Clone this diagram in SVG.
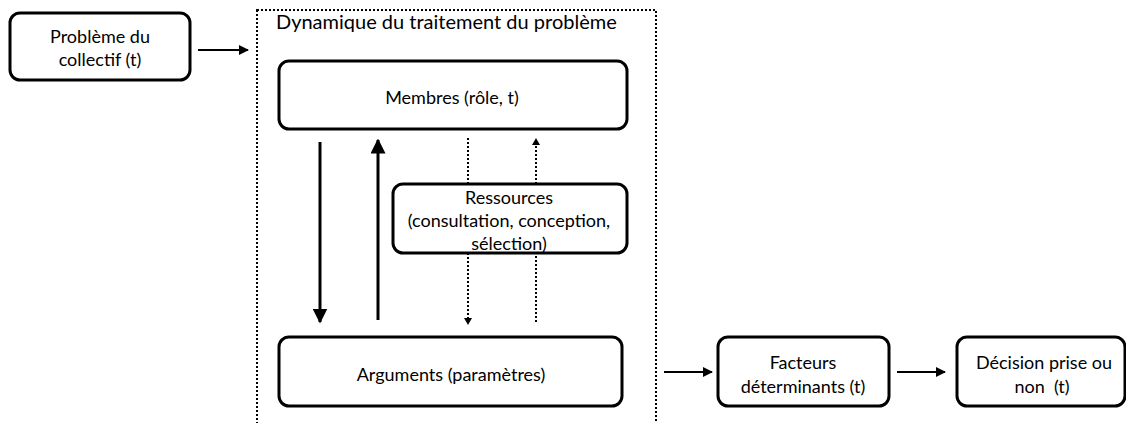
<svg xmlns="http://www.w3.org/2000/svg" width="1126" height="423" viewBox="0 0 1126 423">
<defs>
<marker id="ah" viewBox="0 0 10 10" refX="9" refY="5" markerWidth="5" markerHeight="5" orient="auto" markerUnits="strokeWidth"><path d="M0,0 L10,5 L0,10 z" fill="#000"/></marker>
<style>
.box{fill:#fff;stroke:#000;stroke-width:3;}
.t{font-family:Lato,"Liberation Sans",sans-serif;font-size:18px;fill:#000;text-anchor:middle;white-space:pre;}
.title{font-family:Lato,"Liberation Sans",sans-serif;font-size:20px;fill:#000;}
.c{stroke:#000;fill:none;}
.solid{stroke-width:3;marker-end:url(#ah);}
.h{stroke-width:2;marker-end:url(#ah);}
.dot{stroke-width:2;stroke-dasharray:2 2;}
</style>
</defs>
<rect width="1126" height="423" fill="#fff"/>
<g id="container">
<rect x="257" y="10" width="399" height="430" fill="none" stroke="#000" stroke-width="2" stroke-dasharray="2 2"/>
<text class="title" x="276" y="29">Dynamique du traitement du problème</text>
</g>
<g id="probleme">
<rect class="box" x="10" y="13" width="180" height="67" rx="10"/>
<text class="t" x="100" y="43">Problème du</text>
<text class="t" x="100" y="66">collectif (t)</text>
</g>
<g id="membres">
<rect class="box" x="279" y="61" width="348" height="68" rx="10"/>
<text class="t" x="452" y="104">Membres (rôle, t)</text>
</g>
<g id="ressources">
<rect class="box" x="393" y="184" width="234" height="69" rx="10"/>
<text class="t" x="509" y="204">Ressources</text>
<text class="t" x="509" y="227">(consultation, conception,</text>
<text class="t" x="509" y="250">sélection)</text>
</g>
<g id="arguments">
<rect class="box" x="279" y="337" width="343" height="69" rx="10"/>
<text class="t" x="451" y="381">Arguments (paramètres)</text>
</g>
<g id="facteurs">
<rect class="box" x="718" y="337" width="171" height="69" rx="10"/>
<text class="t" x="803" y="369">Facteurs</text>
<text class="t" x="803" y="393">déterminants (t)</text>
</g>
<g id="decision">
<rect class="box" x="957" y="337" width="168" height="69" rx="10"/>
<text class="t" x="1044" y="369">Décision prise ou</text>
<text class="t" x="1042" y="393" xml:space="preserve">non  (t)</text>
</g>
<g id="connectors">
<line class="c h" x1="198" y1="50" x2="248" y2="50"/>
<line class="c solid" x1="320" y1="142" x2="320" y2="322"/>
<line class="c solid" x1="378" y1="320" x2="378" y2="140"/>
<line class="c dot" x1="468" y1="138" x2="468" y2="184"/>
<line class="c dot" x1="468" y1="253" x2="468" y2="318"/>
<path d="M464,318 L472,318 L468,325 z" fill="#000"/>
<line class="c dot" x1="536" y1="322" x2="536" y2="253"/>
<line class="c dot" x1="536" y1="184" x2="536" y2="144"/>
<path d="M532,145 L540,145 L536,138 z" fill="#000"/>
<line class="c h" x1="664" y1="372" x2="712" y2="372"/>
<line class="c h" x1="897" y1="372" x2="945" y2="372"/>
</g>
</svg>
